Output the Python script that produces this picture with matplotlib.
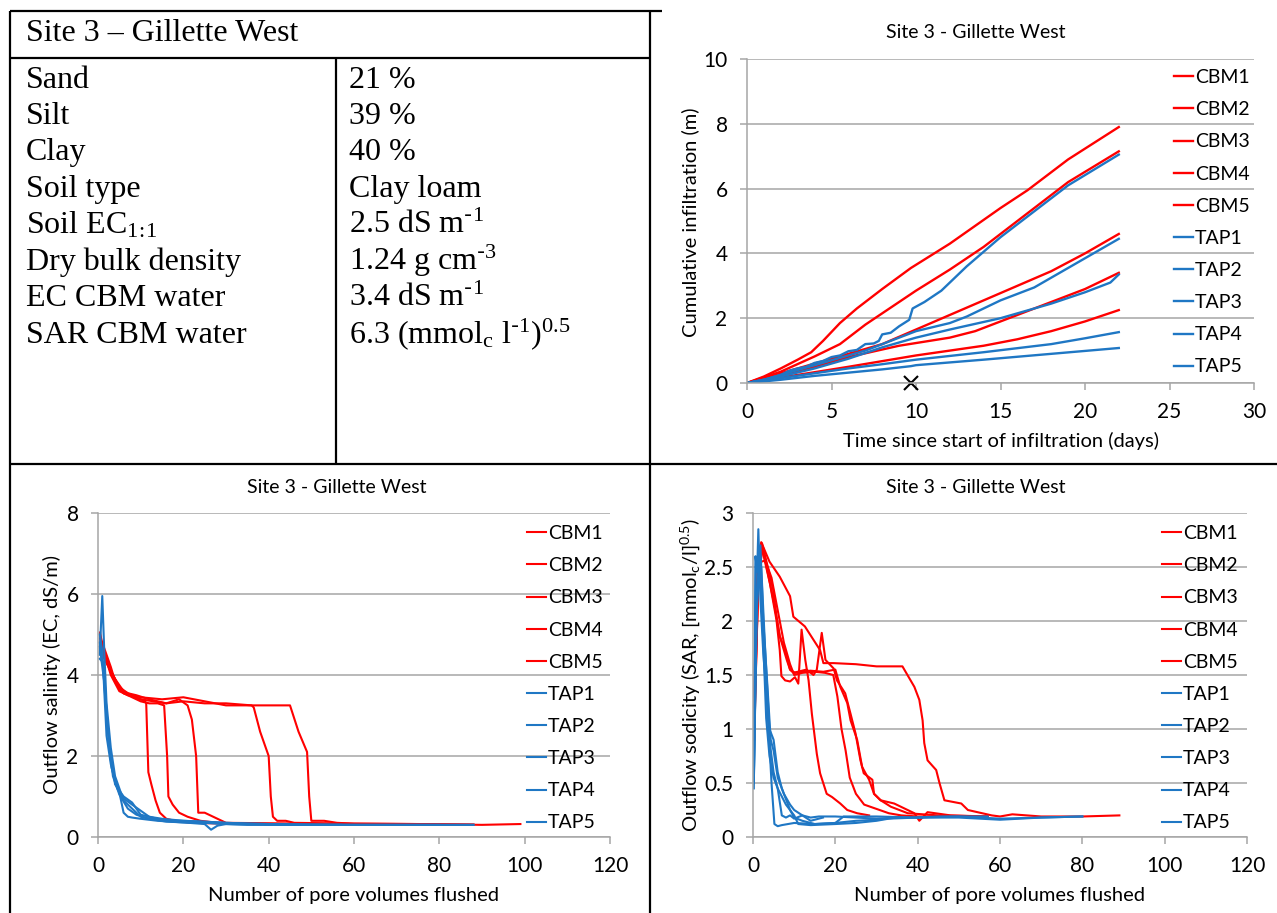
import numpy as np
import matplotlib
matplotlib.use('Agg')
import matplotlib.pyplot as plt
from matplotlib.lines import Line2D

W, H = 1277, 913
SANS = 'Lato'
SERIF = 'Liberation Serif'
RED = '#FF0000'
BLUE = '#1F77C4'
GRID = '#A6A6A6'

# ---- soil table ----
table_title = 'Site 3 \u2013 Gillette West'
prop_names = ['Sand', 'Silt', 'Clay', 'Soil type', r'Soil EC$\mathregular{_{1\!:\!1}}$',
              'Dry bulk density', 'EC CBM water', 'SAR CBM water']
prop_values = ['21 %', '39 %', '40 %', 'Clay loam', r'2.5 dS m$\mathregular{^{\text{-}1}}$',
               r'1.24 g cm$\mathregular{^{\text{-}3}}$', r'3.4 dS m$\mathregular{^{\text{-}1}}$',
               r'6.3 (mmol$\mathregular{_c}$ l$\mathregular{^{\text{-}1}}$)$\mathregular{^{0.5}}$']

series_names = ['CBM1', 'CBM2', 'CBM3', 'CBM4', 'CBM5', 'TAP1', 'TAP2', 'TAP3', 'TAP4', 'TAP5']
series_colors = [RED] * 5 + [BLUE] * 5

# ---- cumulative infiltration (days, m) ----
inf_t = [
    [0, 1, 2, 3, 3.8, 4.5, 5.5, 6.5, 8, 9.7, 12, 15, 16.6, 19, 22],
    [0, 2, 4, 5.5, 7, 9, 10, 12, 14, 16.5, 19, 22],
    [0, 2, 4, 6, 8, 10, 12, 14, 16, 18, 20, 22],
    [0, 3, 6, 9, 12, 13.5, 15, 17, 20, 22],
    [0, 3, 6, 10, 14, 16, 18, 20, 22],
    [0, 1, 2, 2.5, 3, 3.5, 4, 4.5, 5, 5.5, 6, 6.5, 7, 7.5, 7.8, 8, 8.5, 9, 9.6, 9.8, 10.5, 11.5, 13, 15, 17, 19, 22],
    [0, 1, 2, 3, 4, 5, 6, 7, 8, 10, 12, 13, 15, 17, 19, 22],
    [0, 2, 4, 6, 8, 10, 12, 15, 18, 20, 21.5, 22],
    [0, 2, 4, 6, 8, 10, 14, 18, 20, 22],
    [0, 2, 4, 6, 8, 9.7, 10, 14, 18, 22],
]
inf_v = [
    [0, 0.2, 0.45, 0.72, 0.95, 1.3, 1.85, 2.3, 2.9, 3.55, 4.3, 5.4, 5.95, 6.9, 7.9],
    [0, 0.35, 0.82, 1.2, 1.8, 2.5, 2.85, 3.5, 4.2, 5.2, 6.2, 7.15],
    [0, 0.3, 0.6, 0.9, 1.2, 1.65, 2.1, 2.55, 3.0, 3.45, 4.0, 4.6],
    [0, 0.35, 0.8, 1.15, 1.4, 1.6, 1.9, 2.3, 2.9, 3.4],
    [0, 0.25, 0.5, 0.85, 1.15, 1.35, 1.6, 1.9, 2.25],
    [0, 0.1, 0.25, 0.38, 0.45, 0.5, 0.62, 0.68, 0.8, 0.85, 0.98, 1.02, 1.2, 1.22, 1.3, 1.5, 1.55, 1.75, 1.95, 2.3, 2.5, 2.85, 3.6, 4.5, 5.3, 6.1, 7.05],
    [0, 0.1, 0.25, 0.4, 0.55, 0.7, 0.85, 1.0, 1.2, 1.6, 1.85, 2.05, 2.55, 2.95, 3.55, 4.45],
    [0, 0.2, 0.45, 0.75, 1.1, 1.4, 1.65, 2.0, 2.45, 2.8, 3.1, 3.35],
    [0, 0.15, 0.3, 0.45, 0.58, 0.72, 0.95, 1.2, 1.38, 1.57],
    [0, 0.1, 0.22, 0.32, 0.42, 0.52, 0.55, 0.72, 0.9, 1.08],
]
cross_t, cross_v = 9.7, 0.0

# ---- outflow salinity (pore volumes, dS/m) ----
ec_x = [
    [0.5, 1, 2, 3, 4, 5, 6, 7, 8, 9, 10, 11, 11.3, 11.8, 12.5, 13.5, 14.5, 16, 18, 22, 26, 30],
    [0.5, 1, 2, 3, 4, 5, 6, 8, 10, 12, 14, 15.5, 16.2, 16.5, 17.5, 19, 21, 24, 28, 34, 40],
    [0.5, 1, 2, 3, 4, 5, 6, 8, 10, 13, 16, 19, 21, 22, 23, 23.5, 25, 27, 29, 30, 40, 50, 57],
    [0.5, 1, 2, 3, 4, 5, 6, 8, 10, 15, 20, 25, 30, 36, 36.5, 38, 40, 40.5, 41, 42, 44, 46, 60, 75, 88],
    [0.5, 1, 2, 3, 4, 5, 7, 9, 12, 16, 20, 25, 30, 36, 45, 47, 49, 49.5, 50, 53, 56, 60, 75, 90, 99],
    [0.4, 1, 1.5, 2, 3, 4, 5, 6, 8, 10, 12, 15, 20, 25, 30, 40, 60, 88],
    [0.4, 1, 2, 3, 4, 5, 6, 7, 8, 10, 14, 20, 25, 26.5, 28, 30, 35, 45, 57],
    [0.4, 1.2, 2, 3, 4, 6, 8, 10, 12, 15, 20, 30, 40, 50, 60, 70, 88],
    [0.4, 1.5, 2.5, 3.5, 5, 7, 9, 12, 16, 20, 25, 30, 36],
    [0.4, 1.3, 2.2, 3.2, 4.5, 6, 8, 10, 12, 15, 20, 25, 30, 35, 40, 50, 60, 70, 80],
]
ec_y = [
    [4.9, 4.7, 4.4, 4.1, 3.9, 3.7, 3.55, 3.5, 3.48, 3.42, 3.4, 3.35, 3.3, 1.6, 1.3, 0.9, 0.6, 0.45, 0.4, 0.35, 0.34, 0.33],
    [5.0, 4.8, 4.5, 4.2, 3.85, 3.65, 3.55, 3.45, 3.35, 3.3, 3.3, 3.25, 2.0, 1.0, 0.8, 0.6, 0.5, 0.4, 0.35, 0.33, 0.32],
    [4.8, 4.6, 4.3, 4.1, 3.9, 3.75, 3.6, 3.5, 3.4, 3.35, 3.3, 3.4, 3.25, 2.9, 2.0, 0.6, 0.6, 0.5, 0.4, 0.35, 0.34, 0.33, 0.32],
    [4.7, 4.6, 4.35, 4.0, 3.8, 3.6, 3.55, 3.5, 3.45, 3.4, 3.45, 3.35, 3.25, 3.25, 3.2, 2.6, 2.0, 1.0, 0.5, 0.4, 0.4, 0.35, 0.33, 0.32, 0.31],
    [5.05, 4.5, 4.3, 4.1, 3.9, 3.7, 3.55, 3.5, 3.4, 3.3, 3.35, 3.3, 3.3, 3.25, 3.25, 2.6, 2.1, 1.0, 0.4, 0.4, 0.35, 0.33, 0.32, 0.3, 0.32],
    [4.5, 5.95, 4.5, 3.3, 2.2, 1.5, 1.2, 0.9, 0.7, 0.5, 0.45, 0.42, 0.38, 0.35, 0.32, 0.3, 0.3, 0.3],
    [5.0, 4.6, 2.5, 1.8, 1.4, 1.1, 0.6, 0.5, 0.48, 0.45, 0.4, 0.36, 0.32, 0.18, 0.28, 0.32, 0.3, 0.3, 0.3],
    [4.8, 4.2, 3.0, 2.0, 1.3, 1.0, 0.85, 0.55, 0.5, 0.45, 0.4, 0.35, 0.32, 0.31, 0.3, 0.3, 0.3],
    [4.7, 3.8, 2.4, 1.5, 1.05, 0.7, 0.55, 0.45, 0.38, 0.36, 0.35, 0.33, 0.32],
    [4.4, 4.3, 2.8, 1.7, 1.2, 0.95, 0.8, 0.65, 0.5, 0.42, 0.4, 0.38, 0.35, 0.33, 0.32, 0.3, 0.3, 0.3, 0.3],
]

# ---- outflow sodicity (pore volumes, SAR) ----
sar_x = [
    [0.3, 1.2, 2.0, 2.6, 4.1, 5.7, 6.5, 6.9, 7.8, 9, 10.2, 11, 11.8, 12.7, 13.5, 14.3, 15.5, 16.3, 17.9, 19.2, 21.2, 22.9, 25.3, 28.2],
    [0.3, 1.3, 2.4, 4.9, 5.7, 6.5, 7.8, 9, 9.8, 13, 14.7, 15.5, 16.7, 17.6, 19.6, 20.4, 22.4, 23.7, 24.9, 26.1, 26.9, 29, 29.4, 31, 33.5, 37.6, 45, 57],
    [0.3, 1.4, 2.2, 3.3, 5.3, 6.5, 8.2, 9, 10.2, 13.9, 17.1, 20, 21.2, 22.9, 23.7, 25.3, 26.5, 28.2, 29.4, 31, 34.3, 39.2, 40.4, 42.4, 48, 57],
    [0.3, 1.2, 2.0, 4, 6.5, 9, 9.8, 12.6, 16.3, 17.1, 19.6, 25, 30, 36.3, 39.2, 40.4, 41.2, 41.6, 42.4, 44.5, 45.3, 46.5, 50.6, 52.2, 58, 60, 63, 70, 80, 89],
    [0.2, 1.2, 3, 4.5, 6, 7.5, 9, 10, 12, 15, 17.5, 19.5, 20.5, 21.5, 22.5, 23.5, 25, 27, 30, 33, 36, 40, 45],
    [0.2, 0.6, 1.0, 1.3, 1.8, 2.5, 3.5, 4.5, 5.2, 6, 7, 10, 15, 20, 25, 30, 35, 40, 50, 60, 70, 80],
    [0.2, 0.7, 1.2, 1.8, 2.5, 3.5, 4.3, 5, 6, 7.5, 9, 10, 12, 14, 17],
    [0.2, 0.8, 1.5, 2, 3, 4, 5, 6, 7, 8, 9, 10, 12, 15, 20, 22, 30, 40, 45, 50, 57],
    [0.2, 1, 1.6, 2.5, 3.2, 4, 5, 6, 7, 8, 9, 10, 12, 14, 16, 20, 25, 30, 36],
    [0.2, 0.9, 1.4, 2, 3, 4, 5, 6, 8, 10, 11, 14, 20, 25, 30, 33, 40, 50, 60, 70, 80],
]
sar_y = [
    [0.9, 2.3, 2.68, 2.6, 2.35, 2.01, 1.73, 1.49, 1.45, 1.44, 1.48, 1.42, 1.92, 1.64, 1.45, 1.14, 0.77, 0.59, 0.40, 0.37, 0.31, 0.25, 0.22, 0.2],
    [1.1, 2.4, 2.69, 2.29, 2.04, 1.86, 1.73, 1.55, 1.52, 1.55, 1.5, 1.55, 1.89, 1.64, 1.56, 1.45, 1.33, 1.14, 0.96, 0.71, 0.59, 0.53, 0.40, 0.34, 0.28, 0.22, 0.2, 0.19],
    [1.0, 2.5, 2.72, 2.5, 2.13, 1.86, 1.64, 1.55, 1.52, 1.54, 1.53, 1.55, 1.39, 1.24, 1.08, 0.90, 0.65, 0.53, 0.40, 0.34, 0.31, 0.22, 0.15, 0.23, 0.2, 0.19],
    [1.2, 2.6, 2.73, 2.55, 2.41, 2.23, 2.04, 1.95, 1.73, 1.61, 1.61, 1.6, 1.58, 1.58, 1.39, 1.27, 1.08, 0.87, 0.71, 0.62, 0.5, 0.34, 0.31, 0.25, 0.2, 0.19, 0.21, 0.19, 0.19, 0.2],
    [1.3, 2.54, 2.56, 2.4, 2.1, 1.8, 1.6, 1.5, 1.52, 1.53, 1.52, 1.5, 1.3, 1.0, 0.8, 0.55, 0.4, 0.3, 0.26, 0.22, 0.2, 0.19, 0.19],
    [0.45, 2.6, 2.45, 2.85, 2.2, 1.7, 1.2, 0.5, 0.12, 0.1, 0.11, 0.13, 0.12, 0.13, 0.15, 0.16, 0.18, 0.18, 0.19, 0.17, 0.18, 0.19],
    [0.6, 2.55, 2.6, 2.7, 2.0, 1.4, 0.9, 0.8, 0.55, 0.4, 0.3, 0.25, 0.2, 0.15, 0.18],
    [0.5, 2.0, 2.6, 2.5, 1.7, 1.0, 0.9, 0.6, 0.45, 0.35, 0.25, 0.18, 0.15, 0.12, 0.13, 0.19, 0.19, 0.18, 0.19, 0.19, 0.19],
    [0.55, 2.3, 2.6, 1.8, 1.1, 0.75, 0.55, 0.45, 0.2, 0.18, 0.2, 0.17, 0.2, 0.18, 0.19, 0.19, 0.18, 0.17, 0.18],
    [0.5, 2.1, 2.4, 2.3, 1.5, 0.9, 0.6, 0.45, 0.3, 0.2, 0.12, 0.11, 0.12, 0.13, 0.15, 0.17, 0.18, 0.18, 0.16, 0.18, 0.19],
]


def fx(px):
    return px / W


def fy(py):
    return 1 - py / H


def axes_at(x0, x1, y0, y1):
    # pixel box -> axes (y0 is the pixel row of the data minimum)
    return fig.add_axes([fx(x0), fy(y0), (x1 - x0) / W, (y0 - y1) / H])


def style_chart(ax, xmax, xstep, ymax, ystep):
    ax.set_xlim(0, xmax)
    ax.set_ylim(0, ymax)
    ax.set_xticks(np.arange(0, xmax + 0.01, xstep))
    yt = np.arange(0, ymax + 0.01, ystep)
    ax.set_yticks(yt)
    ax.set_yticklabels([f'{v:g}' for v in yt])
    ax.yaxis.grid(True, color=GRID, linewidth=1.1)
    ax.set_axisbelow(True)
    for s in ['top', 'right']:
        ax.spines[s].set_visible(False)
    for s in ['left', 'bottom']:
        ax.spines[s].set_color(GRID)
        ax.spines[s].set_linewidth(1.1)
    ax.tick_params(colors=GRID, labelcolor='black', labelsize=15, length=5, width=1.1, pad=9)
    for lab in ax.get_xticklabels() + ax.get_yticklabels():
        lab.set_fontfamily(SANS)
    ax.patch.set_alpha(0)


def add_legend(ax, left_px, top_px):
    ax.legend(loc='upper left', bbox_to_anchor=(fx(left_px), fy(top_px)),
              bbox_transform=fig.transFigure, frameon=False, borderpad=0,
              borderaxespad=0, handlelength=1.0, handletextpad=0.08,
              labelspacing=0.78, prop={'family': SANS, 'size': 14})


fig = plt.figure(figsize=(W / 100, H / 100), dpi=100)

# ---- cell borders ----
border = dict(color='black', linewidth=1.6, solid_capstyle='butt')
for xs, ys in [([10, 10], [11, 913]), ([650, 650], [11, 913]),
               ([10, 662], [11, 11]), ([10, 650], [58, 58]),
               ([336, 336], [58, 464]), ([10, 1277], [464, 464])]:
    fig.add_artist(Line2D([fx(v) for v in xs], [fy(v) for v in ys], **border))

# ---- table text ----
fig.text(fx(26), fy(41), table_title, family=SERIF, fontsize=23, va='baseline')
row_base = [88, 124, 160, 197, 233, 270, 306, 343]
for name, val, y in zip(prop_names, prop_values, row_base):
    fig.text(fx(26), fy(y), name, family=SERIF, fontsize=23, va='baseline')
    fig.text(fx(349), fy(y), val, family=SERIF, fontsize=23, va='baseline')

# ---- cumulative infiltration ----
ax1 = axes_at(747, 1254, 383, 59)
for t, v, name, c in zip(inf_t, inf_v, series_names, series_colors):
    ax1.plot(t, v, color=c, linewidth=1.7, label=name)
ax1.plot(cross_t, cross_v, marker='x', color='black', markersize=10, markeredgewidth=1.5,
         linestyle='none', clip_on=False)
style_chart(ax1, 30, 5, 10, 2)
add_legend(ax1, 1174, 69)
fig.text(fx(976), fy(33), 'Site 3 - Gillette West', family=SANS, fontsize=14, ha='center', va='center')
fig.text(fx(1001), fy(441), 'Time since start of infiltration (days)', family=SANS, fontsize=14.5,
         ha='center', va='center')
fig.text(fx(690), fy(222), 'Cumulative infiltration (m)', family=SANS, fontsize=14.5,
         ha='center', va='center', rotation=90)

# ---- outflow salinity ----
ax2 = axes_at(98, 610, 837, 513)
for x, y, name, c in zip(ec_x, ec_y, series_names, series_colors):
    ax2.plot(x, y, color=c, linewidth=1.5, label=name)
style_chart(ax2, 120, 20, 8, 2)
add_legend(ax2, 527, 525)
fig.text(fx(337), fy(487), 'Site 3 - Gillette West', family=SANS, fontsize=14, ha='center', va='center')
fig.text(fx(354), fy(895), 'Number of pore volumes flushed', family=SANS, fontsize=14.5,
         ha='center', va='center')
fig.text(fx(52), fy(675), 'Outflow salinity (EC, dS/m)', family=SANS, fontsize=14.5,
         ha='center', va='center', rotation=90)

# ---- outflow sodicity ----
ax3 = axes_at(753, 1247, 837, 513)
for x, y, name, c in zip(sar_x, sar_y, series_names, series_colors):
    ax3.plot(x, y, color=c, linewidth=1.5, label=name)
style_chart(ax3, 120, 20, 3, 0.5)
add_legend(ax3, 1162, 525)
fig.text(fx(976), fy(487), 'Site 3 - Gillette West', family=SANS, fontsize=14, ha='center', va='center')
fig.text(fx(1000), fy(895), 'Number of pore volumes flushed', family=SANS, fontsize=14.5,
         ha='center', va='center')
fig.text(fx(690), fy(675),
         r'Outflow sodicity (SAR, [mmol$\mathregular{_c}$/l]$\mathregular{^{0.5}}$)',
         family=SANS, fontsize=14.5, ha='center', va='center', rotation=90)

fig.savefig('out.png', dpi=100)
